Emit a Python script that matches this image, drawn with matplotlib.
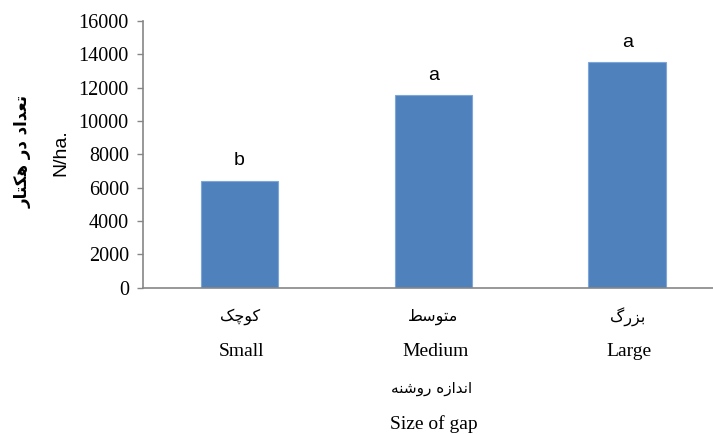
import matplotlib.pyplot as plt

# data
categories_en = ['Small', 'Medium', 'Large']
# Persian labels, written in presentation forms (visual order) since matplotlib does no Arabic shaping
categories_fa = ['\uFB8F\uFB7C\uFEEE\uFB90',            # کوچک
                 '\uFEC2\uFEB3\uFEEE\uFE98\uFEE3',      # متوسط
                 '\uFB92\uFEAD\uFEB0\uFE91']            # بزرگ
values = [6430, 11550, 13530]
letters = ['b', 'a', 'a']
yticks = [0, 2000, 4000, 6000, 8000, 10000, 12000, 14000, 16000]

ylabel_fa = '\uFEAD\uFE8E\uFE98\uFB91\uFEEB \uFEAD\uFEA9 \uFEA9\uFE8D\uFEAA\uFECC\uFE97'  # تعداد در هکتار
ylabel_en = 'N/ha.'
xlabel_fa = '\uFEEA\uFEE8\uFEB7\uFEED\uFEAD \uFEE9\uFEAF\uFE8D\uFEAA\uFEE7\uFE8D'          # اندازه روشنه
xlabel_en = 'Size of gap'

W, H = 713, 434
fig = plt.figure(figsize=(W / 100, H / 100), dpi=100)
ax = fig.add_axes([142.7 / W, 1 - 287.7 / H, 1 - 142.7 / W, (287.7 - 21) / H])

x = list(range(len(values)))
ax.bar(x, values, width=0.4, color='#4F81BD', edgecolor='#7EA6D8', linewidth=0.8, zorder=2)

for xi, v, l in zip(x, values, letters):
    ax.annotate(l, (xi, v), xytext=(0, 11), textcoords='offset points',
                ha='center', va='baseline', fontsize=14, family='Liberation Sans')

ax.set_xlim(-0.5, -0.5 + (W - 142.7) / 193.8)
ax.set_ylim(0, 16000)
ax.set_yticks(yticks)
ax.set_yticklabels([str(t) for t in yticks], family='Liberation Serif', fontsize=14.5)
ax.set_xticks([])

for s in ['top', 'right']:
    ax.spines[s].set_visible(False)
for s in ['left', 'bottom']:
    ax.spines[s].set_color('#868686')
    ax.spines[s].set_linewidth(1.2)
ax.tick_params(axis='y', direction='out', length=4, width=1, color='#868686', pad=6)

# category labels, two lines
tr = ax.get_xaxis_transform()
ah = 287.7 - 21
for xi, fa, en in zip(x, categories_fa, categories_en):
    ax.text(xi, -(317 - 287.7) / ah, fa, transform=tr, ha='center', va='center',
            family='DejaVu Sans', fontsize=11.5)
    ax.text(xi + 0.01, -(352 - 287.7) / ah, en, transform=tr, ha='center', va='center',
            family='Liberation Serif', fontsize=14)

fig.text(432 / W, 1 - 389 / H, xlabel_fa, ha='center', va='center', family='DejaVu Sans', fontsize=11)
fig.text(434 / W, 1 - 424 / H, xlabel_en, ha='center', va='center', family='Liberation Serif', fontsize=14)

fig.text(23 / W, 1 - 151 / H, ylabel_fa, rotation=90, ha='center', va='center',
         family='DejaVu Sans', fontweight='bold', fontsize=12)
fig.text(61 / W, 1 - 153 / H, ylabel_en, rotation=90, ha='center', va='center',
         family='Liberation Sans', fontsize=14)

fig.savefig('out.png', dpi=100)
